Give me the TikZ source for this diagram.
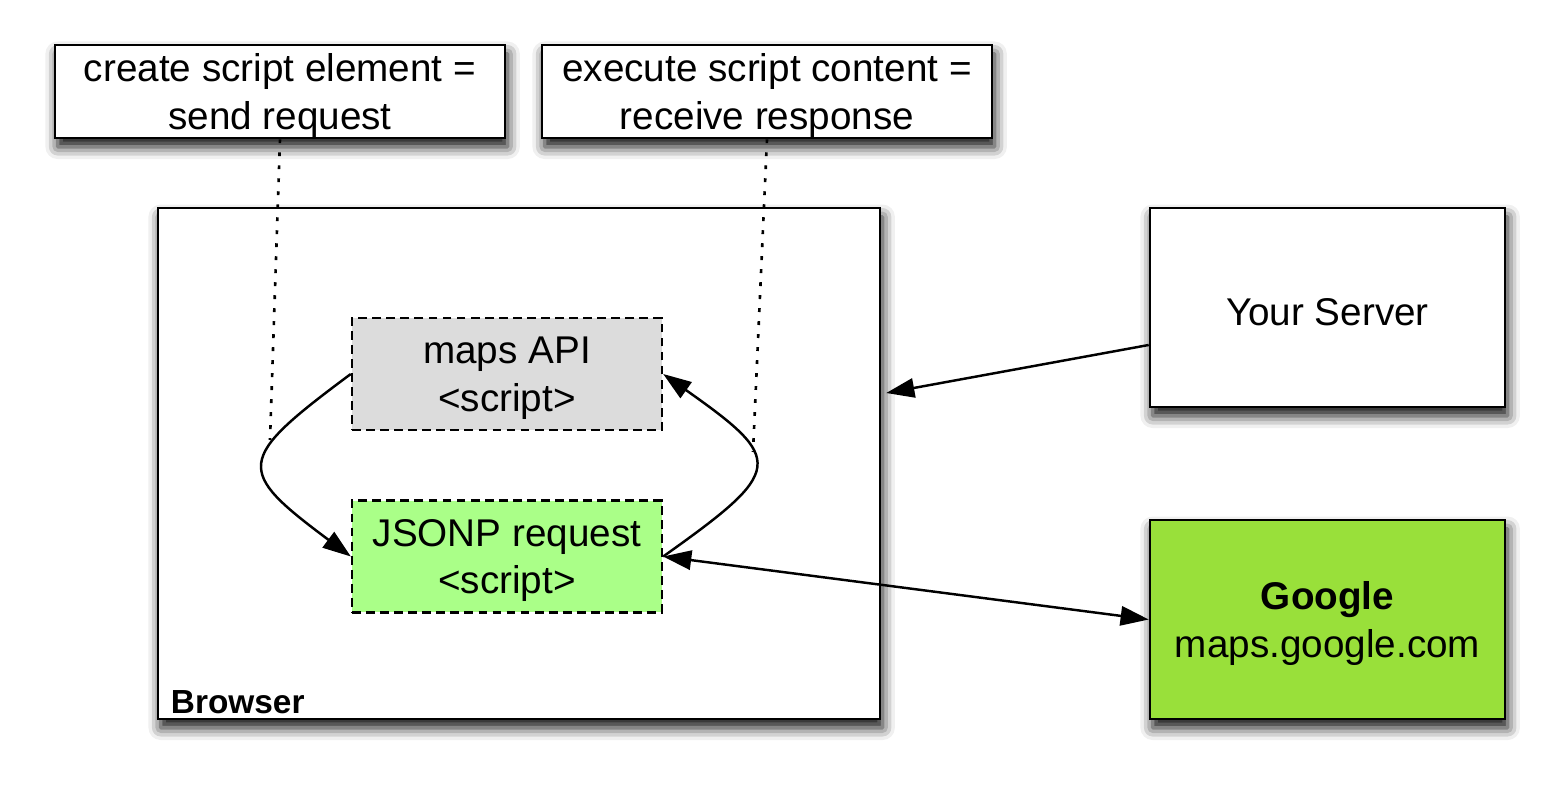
\documentclass[tikz,border=0pt]{standalone}
\usepackage{fontspec}
\setmainfont{Liberation Sans}
\usetikzlibrary{arrows.meta,shadows.blur}
\definecolor{apigray}{RGB}{220,220,220}
\definecolor{jsonpgreen}{RGB}{170,255,136}
\definecolor{googlegreen}{RGB}{153,224,58}

\begin{document}
\begin{tikzpicture}[x=0.02cm,y=-0.02cm,
  every node/.style={font=\fontsize{22}{27}\selectfont,align=center,text depth=0pt,
    execute at begin node={\rule{0pt}{21pt}}},
  box/.style={draw,line width=1.5pt,fill=white,
    blur shadow={shadow xshift=1.5pt,shadow yshift=-5pt,shadow blur radius=7pt,shadow opacity=95}},
  scriptbox/.style={draw,line width=1.4pt,dash pattern=on 5pt off 3pt,
    minimum width=6.2cm,minimum height=2.24cm},
  link/.style={line width=1.4pt,-{Triangle[length=16pt,width=11pt]}},
  guide/.style={line width=1.5pt,dash pattern=on 2.2pt off 5.2pt}]
  \useasboundingbox (0,0) rectangle (1562,787);

  % Draw note boxes on top
  \node[box,minimum width=9cm,minimum height=1.86cm] (send) at (280,91.5)
    {create script element =\\send request};
  \node[box,minimum width=9cm,minimum height=1.86cm] (receive) at (767,91.5)
    {execute script content =\\receive response};

  % Draw browser, server and google boxes
  \node[box,minimum width=14.44cm,minimum height=10.22cm] (browser) at (519,463.5) {};
  \node[anchor=base west,font=\fontsize{19}{22}\selectfont\bfseries] (browserlabel)
    at ([xshift=0.16cm,yshift=0.14cm]browser.south west) {Browser};
  \node[box,minimum width=7.1cm,minimum height=3.98cm] (server) at (1327.5,307.5) {Your Server};
  \node[box,fill=googlegreen,minimum width=7.1cm,minimum height=3.98cm] (google) at (1327.5,619.5)
    {\textbf{Google}\\maps.google.com};

  % Draw dotted guides from the notes
  \coordinate (sendend) at (270,440);
  \coordinate (receiveend) at (753,452);
  \draw[guide] (send.south) -- (sendend);
  \draw[guide] (receive.south) -- (receiveend);

  % Draw script boxes inside browser
  \node[scriptbox,fill=apigray] (api) at (507,374) {maps API\\<script>};
  \node[scriptbox,fill=jsonpgreen] (jsonp) at (507,556.5) {JSONP request\\<script>};

  % Draw curved arrows between the scripts
  \draw[link] (api.west) .. controls (235,460) and (235,470) .. (jsonp.west);
  \draw[link] (jsonp.east) .. controls (785,470) and (785,460) .. (api.east);

  % Draw arrows to the servers
  \draw[link] ([yshift=-0.75cm]server.west) -- ([xshift=0.1cm,yshift=1.41cm]browser.east);
  \draw[link,{Triangle[length=16pt,width=11pt]}-{Triangle[length=16pt,width=11pt]}]
    (jsonp.east) -- (google.west);

\end{tikzpicture}
\end{document}
